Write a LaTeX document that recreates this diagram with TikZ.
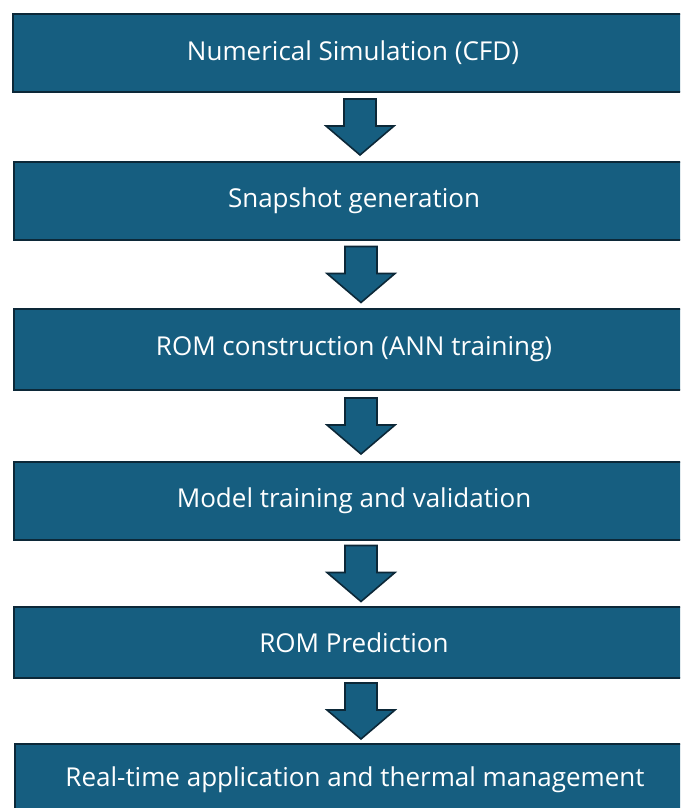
\documentclass[tikz,border=0pt]{standalone}
\usepackage{fontspec}
\setmainfont{Open Sans}
\usetikzlibrary{calc}
\definecolor{boxfill}{RGB}{22,94,128}
\definecolor{boxline}{RGB}{12,40,56}
% block arrow centred in the gap between two stages
\newcommand\flowarrow[2]{%
  \draw[flowarrow] let \p1=(#1.south), \p2=(#2.north),
      \n1={(\y1+\y2)/2+28pt}, \n2={\x1+7pt} in
    (\n2-16pt,\n1) -- (\n2+16pt,\n1) -- (\n2+16pt,\n1-27pt) -- (\n2+34pt,\n1-27pt)
    -- (\n2,\n1-56pt) -- (\n2-34pt,\n1-27pt) -- (\n2-16pt,\n1-27pt) -- cycle;}
\begin{document}
\begin{tikzpicture}[x=1pt,y=-1pt,
  stagebox/.style={draw=boxline, line width=2pt, fill=boxfill, text=white,
    font=\fontsize{26}{30}\selectfont, minimum width=680pt, inner sep=0pt,
    anchor=north west},
  flowarrow/.style={draw=boxline, line width=1.6pt, fill=boxfill, line join=miter}]
\begin{scope}
\clip (0,0) rectangle (680,808);
\node[stagebox, minimum height=78pt] (s1) at (12,13)  {Numerical Simulation (CFD)};
\node[stagebox, minimum height=78pt] (s2) at (13,161) {Snapshot generation};
\node[stagebox, minimum height=81pt] (s3) at (13,308) {ROM construction (ANN training)};
\node[stagebox, minimum height=78pt] (s4) at (13,461) {Model training and validation};
\node[stagebox, minimum height=71pt] (s5) at (13,606) {ROM Prediction};
\node[stagebox, minimum height=72pt] (s6) at (14,743) {Real-time application and thermal management};
\end{scope}
\flowarrow{s1}{s2}
\flowarrow{s2}{s3}
\flowarrow{s3}{s4}
\flowarrow{s4}{s5}
\flowarrow{s5}{s6}
\pgfresetboundingbox
\useasboundingbox (0,0) rectangle (680,808);
\end{tikzpicture}
\end{document}
